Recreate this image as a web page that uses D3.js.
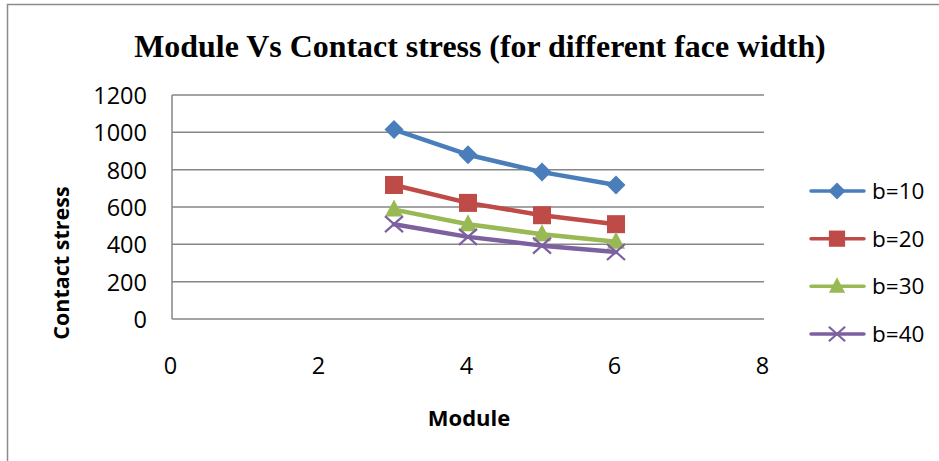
<!DOCTYPE html>
<html>
<head>
<meta charset="utf-8">
<script src="https://cdn.jsdelivr.net/npm/d3@7"></script>
<style>
  html, body { margin: 0; padding: 0; background: #fff; }
  svg { display: block; }
</style>
</head>
<body>
<svg id="chart" width="939" height="461"></svg>
<script>
// Contact stress against gear module, one series per face width b
const modules = [3, 4, 5, 6];
const b10 = [1015, 880, 787, 718];
const b20 = [718, 622, 556, 508];
const b30 = [586, 508, 454, 414];
const b40 = [508, 440, 393, 359];
const seriesNames = ["b=10", "b=20", "b=30", "b=40"];
const xTicks = [0, 2, 4, 6, 8];
const yTicks = [0, 200, 400, 600, 800, 1000, 1200];

const series = [
  { name: seriesNames[0], values: b10, color: "#4A7EBB", marker: "diamond" },
  { name: seriesNames[1], values: b20, color: "#BE4B48", marker: "square" },
  { name: seriesNames[2], values: b30, color: "#98B954", marker: "triangle" },
  { name: seriesNames[3], values: b40, color: "#7D60A0", marker: "cross" }
];

const svg = d3.select("#chart");
const sans = "'Open Sans', 'Liberation Sans', sans-serif";

// outer chart frame (runs off the right and bottom edges)
svg.append("path")
  .attr("d", "M7.5,470 V4.5 H950")
  .attr("fill", "none")
  .attr("stroke", "#8c8c8c")
  .attr("stroke-width", 1.5);

const plot = { left: 172, right: 764, top: 95, bottom: 319 };

const x = d3.scaleLinear().domain([0, 8]).range([plot.left, plot.right]);
const y = d3.scaleLinear().domain([0, 1200]).range([plot.bottom, plot.top]);

// horizontal gridlines
svg.append("g")
  .selectAll("line")
  .data(yTicks)
  .join("line")
  .attr("x1", plot.left).attr("x2", plot.right)
  .attr("y1", d => y(d)).attr("y2", d => y(d))
  .attr("stroke", "#868686")
  .attr("stroke-width", 1.5);

// vertical axis line
svg.append("line")
  .attr("x1", plot.left).attr("x2", plot.left)
  .attr("y1", plot.top).attr("y2", plot.bottom)
  .attr("stroke", "#868686")
  .attr("stroke-width", 1.5);

// y axis labels
const yAxis = d3.axisLeft(y).tickValues(yTicks).tickFormat(d3.format("d")).tickSize(0).tickPadding(25);
const gy = svg.append("g").attr("transform", `translate(${plot.left},0)`).call(yAxis);
gy.select(".domain").remove();
gy.selectAll("text")
  .attr("font-family", sans)
  .attr("font-size", 23.5)
  .attr("fill", "#000")
  .attr("dy", "0.36em");

// x axis labels
const xAxis = d3.axisBottom(x).tickValues(xTicks).tickFormat(d3.format("d")).tickSize(0).tickPadding(0);
const gx = svg.append("g").attr("transform", `translate(0,${plot.bottom})`).call(xAxis);
gx.select(".domain").remove();
gx.selectAll("text")
  .attr("font-family", sans)
  .attr("font-size", 23.5)
  .attr("fill", "#000")
  .attr("x", -2)
  .attr("y", 55)
  .attr("dy", "0");

// title
const title = svg.append("text")
  .attr("x", 480)
  .attr("y", 57)
  .attr("text-anchor", "middle")
  .attr("font-family", "'Liberation Serif', 'Times New Roman', serif")
  .attr("font-weight", "bold")
  .attr("font-size", 30)
  .attr("fill", "#000")
  .text("Module Vs Contact stress (for different face width)");
const tw = title.node().getComputedTextLength();
title.attr("font-size", 30 * 692 / tw);

// axis titles
svg.append("text")
  .attr("transform", "translate(69,263) rotate(-90)")
  .attr("text-anchor", "middle")
  .attr("font-family", sans)
  .attr("font-weight", "bold")
  .attr("font-size", 21.5)
  .attr("fill", "#000")
  .text("Contact stress");

svg.append("text")
  .attr("x", 469)
  .attr("y", 426)
  .attr("text-anchor", "middle")
  .attr("font-family", sans)
  .attr("font-weight", "bold")
  .attr("font-size", 22)
  .attr("fill", "#000")
  .text("Module");

// marker shapes
function drawMarker(g, type, color, cx, cy, scale) {
  const s = scale;
  if (type === "diamond") {
    g.append("path")
      .attr("d", `M${cx},${cy - 9.5 * s} L${cx + 9.5 * s},${cy} L${cx},${cy + 9.5 * s} L${cx - 9.5 * s},${cy} Z`)
      .attr("fill", color);
  } else if (type === "square") {
    g.append("rect")
      .attr("x", cx - 9 * s).attr("y", cy - 9 * s)
      .attr("width", 18 * s).attr("height", 18 * s)
      .attr("fill", color);
  } else if (type === "triangle") {
    g.append("path")
      .attr("d", `M${cx},${cy - 10 * s} L${cx + 9 * s},${cy + 7 * s} L${cx - 9 * s},${cy + 7 * s} Z`)
      .attr("fill", color);
  } else {
    g.append("path")
      .attr("d", `M${cx - 9 * s},${cy - 8 * s} L${cx + 9 * s},${cy + 8 * s} M${cx - 9 * s},${cy + 8 * s} L${cx + 9 * s},${cy - 8 * s}`)
      .attr("stroke", color)
      .attr("stroke-width", 2.2)
      .attr("fill", "none");
  }
}

const line = d3.line()
  .x((d, i) => x(modules[i]))
  .y(d => y(d));

const gSeries = svg.append("g");
series.forEach(s => {
  const g = gSeries.append("g");
  g.append("path")
    .attr("d", line(s.values))
    .attr("fill", "none")
    .attr("stroke", s.color)
    .attr("stroke-width", 4.5)
    .attr("stroke-linejoin", "round")
    .attr("stroke-linecap", "round");
  s.values.forEach((v, i) => drawMarker(g, s.marker, s.color, x(modules[i]), y(v), 1));
});

// legend
const legend = svg.append("g");
const legendY = d3.scalePoint().domain(seriesNames).range([191, 334]);
series.forEach(s => {
  const ly = legendY(s.name);
  legend.append("line")
    .attr("x1", 811).attr("x2", 864)
    .attr("y1", ly).attr("y2", ly)
    .attr("stroke", s.color)
    .attr("stroke-width", 3.5)
    .attr("stroke-linecap", "round");
  drawMarker(legend, s.marker, s.color, 837, ly, 0.9);
  legend.append("text")
    .attr("x", 872)
    .attr("y", ly)
    .attr("dy", "0.36em")
    .attr("font-family", sans)
    .attr("font-size", 22.5)
    .attr("fill", "#000")
    .text(s.name);
});
</script>
</body>
</html>
